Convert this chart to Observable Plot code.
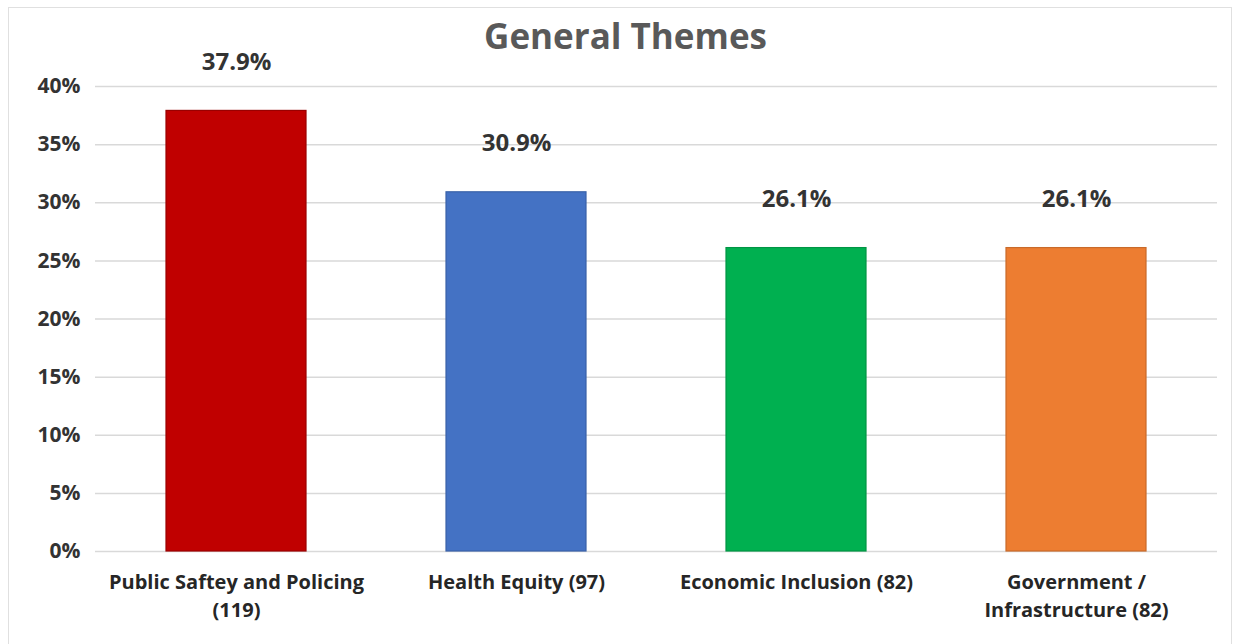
<!DOCTYPE html>
<html>
<head>
<meta charset="utf-8">
<script src="https://cdn.jsdelivr.net/npm/d3@7"></script>
<script src="https://cdn.jsdelivr.net/npm/@observablehq/plot@0.6"></script>
<style>
  html, body { margin: 0; padding: 0; background: #fff; }
  #wrap { position: relative; width: 1241px; height: 644px; overflow: hidden; }
  #border { position: absolute; left: 8px; top: 7px; width: 1224px; height: 660px;
            border: 1.5px solid #e0e0e0; pointer-events: none; box-sizing: border-box; }
  svg { font-family: "Open Sans", Lato, sans-serif; }
</style>
</head>
<body>
<div id="wrap"><div id="border"></div></div>
<script>
const categories = ["Public Saftey and Policing", "Health Equity", "Economic Inclusion", "Government / Infrastructure"];
const tickLabels = ["Public Saftey and Policing\n(119)", "Health Equity (97)", "Economic Inclusion (82)", "Government /\nInfrastructure (82)"];
const values = [37.9, 30.9, 26.1, 26.1];
const valueLabels = ["37.9%", "30.9%", "26.1%", "26.1%"];
const colors = ["#C00000", "#4472C4", "#00B050", "#ED7D31"];
const strokeColors = ["#9a0000", "#3a62a8", "#009544", "#c96a2a"];
const yTicks = [0, 5, 10, 15, 20, 25, 30, 35, 40];
const title = "General Themes";

const data = categories.map((c, i) => ({cat: c, value: values[i], label: valueLabels[i], fill: colors[i], stroke: strokeColors[i], tick: tickLabels[i]}));
const tickMap = new Map(data.map(d => [d.cat, d.tick]));

const chart = Plot.plot({
  width: 1241,
  height: 644,
  marginLeft: 95,
  marginRight: 24,
  marginTop: 86,
  marginBottom: 93,
  style: {fontFamily: "'Open Sans', Lato, sans-serif", background: "transparent"},
  x: {domain: categories, paddingInner: 0.5, paddingOuter: 0.25, label: null},
  y: {domain: [0, 40], label: null},
  marks: [
    Plot.gridY(yTicks, {stroke: "#d9d9d9", strokeOpacity: 1, strokeWidth: 1.5}),
    Plot.axisY(yTicks, {tickSize: 0, tickPadding: 15, tickFormat: d => d + "%", fontSize: 21, fontWeight: "bold", fill: "#333", label: null}),
    Plot.axisX({tickSize: 0, tickPadding: 17, tickFormat: d => tickMap.get(d), fontSize: 20, fontWeight: "bold", fill: "#262626", lineHeight: 1.42, label: null}),
    Plot.barY(data, {x: "cat", y: "value", fill: "fill", stroke: "stroke", strokeWidth: 1.2}),
    Plot.text(data, {x: "cat", y: "value", text: "label", dy: -49, fontSize: 24, fontWeight: "bold", fill: "#333"}),
    Plot.text([title], {frameAnchor: "top", dy: -62, dx: -31, text: d => d, fontSize: 35, fontWeight: "bold", fill: "#595959"})
  ]
});
document.getElementById("wrap").insertBefore(chart, document.getElementById("border"));
</script>
</body>
</html>
